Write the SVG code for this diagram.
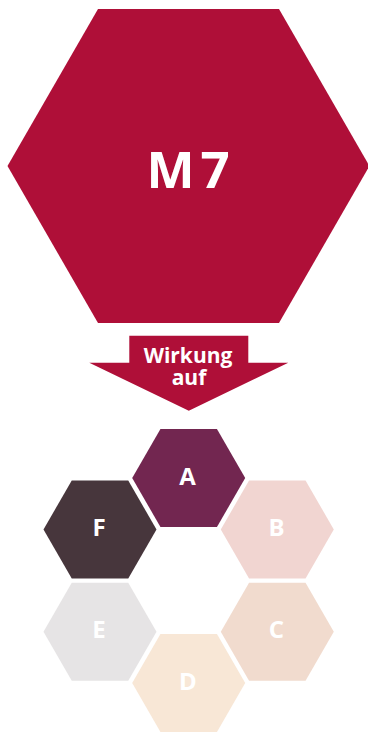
<svg xmlns="http://www.w3.org/2000/svg" xmlns:xlink="http://www.w3.org/1999/xlink" width="368" height="735" viewBox="0 0 368 735">
<style>
text{font-family:"Open Sans","Liberation Sans",sans-serif;font-weight:bold;fill:#ffffff;text-anchor:middle}
.big{font-size:51px;letter-spacing:6px}
.arr{font-size:21px}
.lbl{font-size:24px}
.m7{fill:#AF0F38}
.a{fill:#722650}
.b{fill:#F1D5D1}
.c{fill:#F1DBCE}
.d{fill:#F8E7D6}
.e{fill:#E6E4E5}
.f{fill:#47363C}
</style>
<defs>
<polygon id="hex" points="-28.25,-49 28.25,-49 56.5,0 28.25,49 -28.25,49 -56.5,0"/>
</defs>
<rect width="368" height="735" fill="#ffffff"/>
<g id="M7">
<polygon class="m7" points="98,9 279,9 369.5,166 279,323 98,323 7.5,166"/>
<text class="big" x="191" y="188">M7</text>
</g>
<g id="connectors">
<polygon class="m7" points="129.3,335.7 248.3,335.7 248.3,362.7 288.3,362.7 188.8,410.7 89.3,362.7 129.3,362.7"/>
<text class="arr" x="188" y="363">Wirkung</text>
<text class="arr" x="189" y="385">auf</text>
</g>
<g id="A"><use xlink:href="#hex" class="a" x="188.7" y="478"/><text class="lbl" x="187.5" y="484.5">A</text></g>
<g id="B"><use xlink:href="#hex" class="b" x="277.3" y="529.5"/><text class="lbl" x="276.5" y="536">B</text></g>
<g id="C"><use xlink:href="#hex" class="c" x="277.3" y="631.7"/><text class="lbl" x="276.5" y="638.3">C</text></g>
<g id="D"><use xlink:href="#hex" class="d" x="188.7" y="683"/><text class="lbl" x="188" y="689.5">D</text></g>
<g id="E"><use xlink:href="#hex" class="e" x="100" y="631.7"/><text class="lbl" x="99" y="638.3">E</text></g>
<g id="F"><use xlink:href="#hex" class="f" x="100" y="529.5"/><text class="lbl" x="99" y="536">F</text></g>
</svg>
